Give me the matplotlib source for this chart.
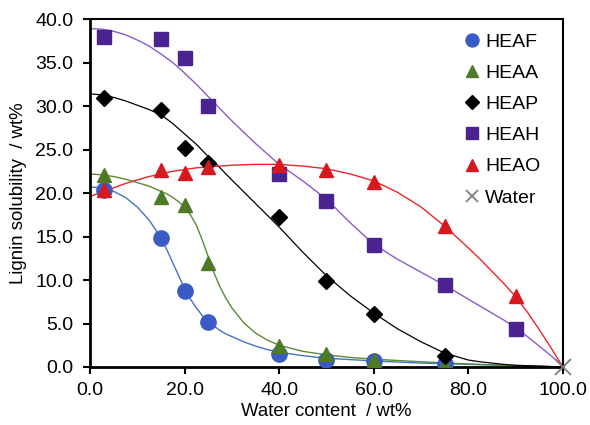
import matplotlib
matplotlib.use("Agg")
import matplotlib.pyplot as plt

plt.rcParams['font.family'] = ['Liberation Sans', 'DejaVu Sans']

# measured points: water content (wt%) vs lignin solubility (wt%)
x_pts = [3, 15, 20, 25, 40, 50, 60, 75]
x_pts_long = [3, 15, 20, 25, 40, 50, 60, 75, 90]
heaf = [20.3, 14.8, 8.7, 5.2, 1.5, 0.8, 0.7, 0.3]
heaa = [22.1, 19.6, 18.6, 12.0, 2.4, 1.5, 0.8, 0.3]
heap = [30.9, 29.5, 25.2, 23.5, 17.2, 9.9, 6.1, 1.3]
heah = [37.9, 37.7, 35.5, 30.0, 22.2, 19.1, 14.0, 9.4, 4.4]
heao = [20.3, 22.7, 22.3, 23.0, 23.2, 22.7, 21.3, 16.2, 8.2]
water_x = [100]
water_y = [0]

# fitted curves
fit_x_a = [0, 2.5, 5, 7.5, 10, 12.5, 13.75, 15, 16.25, 17.5, 18.75, 20, 21.25, 22.5, 23.75, 25,
           26.25, 27.5, 28.75, 30, 32.5, 35, 37.5, 40, 45, 50, 55, 60, 70, 80, 90, 100]
fit_heaf = [20.7, 20.6, 20.2, 19.5, 18.4, 16.9, 15.9, 14.8, 13.5, 12.0, 10.5, 9.0, 7.8, 6.8, 5.9, 5.2,
            4.7, 4.2, 3.8, 3.5, 2.9, 2.4, 2.0, 1.7, 1.3, 1.0, 0.85, 0.7, 0.45, 0.3, 0.15, 0]
fit_heaa = [22.2, 22.1, 21.9, 21.6, 21.2, 20.8, 20.5, 20.2, 19.9, 19.5, 19.0, 18.4, 17.5, 16.3, 14.6, 12.7,
            10.8, 9.2, 7.9, 6.8, 5.1, 3.9, 3.1, 2.5, 1.8, 1.4, 1.1, 0.9, 0.6, 0.35, 0.15, 0]
fit_x_b = [0, 2.5, 5, 7.5, 10, 12.5, 15, 17.5, 20, 22.5, 25, 27.5, 30, 35, 40, 45, 50, 55,
           60, 65, 70, 75, 80, 82.5, 85, 87.5, 90, 92.5, 95, 97.5, 100]
fit_heap = [31.4, 31.3, 31.0, 30.6, 30.1, 29.6, 29.0, 28.0, 26.8, 25.6, 24.2, 22.9, 21.5, 18.8, 16.1, 13.2, 10.5, 8.2,
            6.2, 4.4, 2.9, 1.6, 0.8, 0.6, 0.45, 0.3, 0.2, 0.15, 0.1, 0.05, 0]
fit_heah = [38.9, 38.85, 38.6, 38.2, 37.6, 36.9, 36.0, 35.0, 33.8, 32.5, 31.1, 29.7, 28.3, 25.7, 23.3, 21.4, 19.3, 16.6,
            14.1, 12.4, 10.9, 9.4, 7.8, 7.0, 6.2, 5.4, 4.5, 3.5, 2.4, 1.3, 0.1]
fit_heao = [19.6, 20.1, 20.6, 21.1, 21.5, 21.9, 22.2, 22.5, 22.7, 22.9, 23.0, 23.1, 23.2, 23.3, 23.3, 23.1, 22.8, 22.2,
            21.4, 20.1, 18.4, 16.2, 13.7, 12.4, 11.0, 9.6, 8.1, 6.3, 4.3, 2.2, 0]

fig = plt.figure(figsize=(5.9, 4.25), dpi=100)
ax = fig.add_axes([0.1525, 0.1365, 0.8015, 0.8185])

ax.plot(fit_x_a, fit_heaf, color='#4472C4', lw=1.0, zorder=2)
ax.plot(fit_x_a, fit_heaa, color='#5A8A34', lw=1.0, zorder=2)
ax.plot(fit_x_b, fit_heap, color='black', lw=0.9, zorder=2)
ax.plot(fit_x_b, fit_heah, color='#8A5CCB', lw=1.0, zorder=2)
ax.plot(fit_x_b, fit_heao, color='#E8262B', lw=1.0, zorder=2)

ax.plot(x_pts, heaf, 'o', color='#3A5BC5', ms=11, label='HEAF', zorder=3)
ax.plot(x_pts, heaa, '^', color='#4E7A27', ms=10, label='HEAA', zorder=3)
ax.plot(x_pts, heap, 'D', color='black', ms=8, label='HEAP', zorder=3)
ax.plot(x_pts_long, heah, 's', color='#4B2390', ms=10, label='HEAH', zorder=3)
ax.plot(x_pts_long, heao, '^', color='#D7191F', ms=10, label='HEAO', zorder=3)
ax.plot(water_x, water_y, 'x', color='#7F7F7F', ms=11, mew=1.3, label='Water',
        zorder=4, clip_on=False)

ax.set_xlim(0, 100)
ax.set_ylim(0, 40)
ax.set_xticks(range(0, 101, 20))
ax.set_xticklabels([f'{v:.1f}' for v in range(0, 101, 20)])
ax.set_yticks(range(0, 41, 5))
ax.set_yticklabels([f'{v:.1f}' for v in range(0, 41, 5)])
ax.tick_params(labelsize=14, width=1.5, length=5, direction='out')
ax.tick_params(axis='y', pad=7)
ax.tick_params(axis='x', pad=6)
for side in ['left', 'bottom']:
    ax.spines[side].set_linewidth(2)
for side in ['top', 'right']:
    ax.spines[side].set_linewidth(1.5)

ax.set_xlabel('Water content  / wt%', fontsize=13.4, labelpad=3)
ax.set_ylabel('Lignin solubility  / wt%', fontsize=13.4, labelpad=6)

ax.legend(loc='upper right', frameon=False, fontsize=14, handletextpad=0.1,
          labelspacing=0.7, borderaxespad=0.4, handlelength=1.1, markerscale=0.85,
          bbox_to_anchor=(0.985, 1.005))

fig.savefig('out.png', dpi=100)
